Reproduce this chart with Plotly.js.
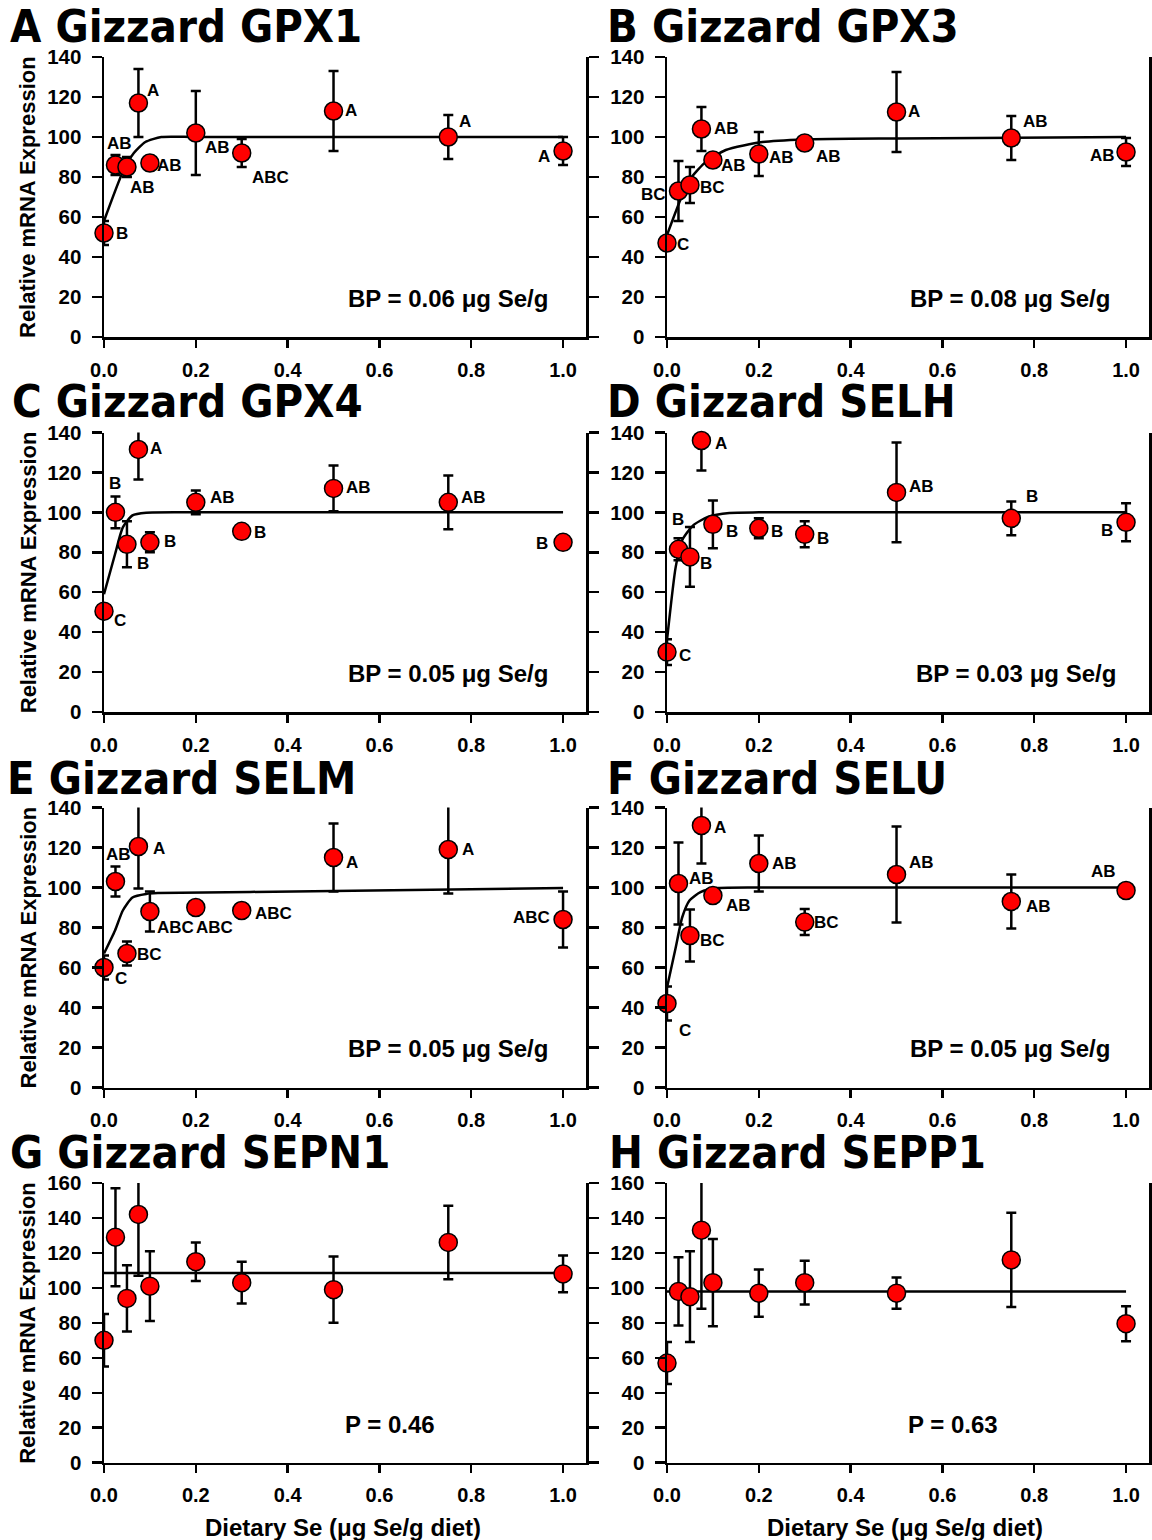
<!DOCTYPE html>
<html>
<head>
<meta charset="utf-8">
<script src="https://cdn.plot.ly/plotly-3.0.1.min.js"></script>
<style>html,body{margin:0;padding:0;background:#fff;}#chart{width:1152px;height:1540px;}</style>
</head>
<body>
<div id="chart"></div>
<script>
// ---------- DATA ----------
const doses = [0, 0.025, 0.05, 0.075, 0.1, 0.2, 0.3, 0.5, 0.75, 1.0];
const xTickVals = [0, 0.2, 0.4, 0.6, 0.8, 1.0];

const gpx1Mean = [52, 86, 85, 117, 87, 102, 92, 113, 100, 93];
const gpx1Se   = [6, 5, 5, 17, 3.5, 21, 7, 20, 11, 7];
const gpx1Labels = ['B','AB','AB','A','AB','AB','ABC','A','A','A'];
const gpx1CurveX = [0, 0.04, 0.065, 0.09, 0.125, 0.2, 1.0];
const gpx1CurveY = [58, 82, 92, 97.5, 100, 100, 100];

const gpx3Mean = [47, 73, 76, 104, 88.5, 91.5, 97, 112.5, 99.5, 92.5];
const gpx3Se   = [3, 15, 9, 11, 3, 11, 2, 20, 11, 7];
const gpx3Labels = ['C','BC','BC','AB','AB','AB','AB','A','AB','AB'];
const gpx3CurveX = [0, 0.029, 0.049, 0.081, 0.128, 0.208, 0.3, 0.5, 1.0];
const gpx3CurveY = [51, 68.5, 78.5, 86.8, 93.5, 97.5, 98.8, 99.3, 100];

const gpx4Mean = [50.5, 100, 84, 131.5, 85, 105, 90.5, 112, 105, 85];
const gpx4Se   = [2, 8, 11.5, 15, 5, 6, 1.5, 11.5, 13.5, 1];
const gpx4Labels = ['C','B','B','A','B','AB','B','AB','AB','B'];
const gpx4CurveX = [0, 0.024, 0.041, 0.062, 0.092, 0.2, 1.0];
const gpx4CurveY = [59, 79, 92.5, 98.5, 99.8, 100, 100];

const selhMean = [30, 81.5, 77.7, 136, 94, 92, 89, 110, 97, 95];
const selhSe   = [6.5, 5.5, 15, 15, 12, 5, 6.5, 25, 8.5, 9.5];
const selhLabels = ['C','B','B','A','B','B','B','AB','B','B'];
const selhCurveX = [0, 0.019, 0.033, 0.057, 0.089, 0.136, 0.2, 1.0];
const selhCurveY = [36, 72.7, 86, 93.5, 97.7, 99.7, 100, 100];

const selmMean = [60, 103, 67, 120.5, 88, 90, 88.5, 115, 119, 84];
const selmSe   = [6, 7.5, 6, 21, 10, 2, 3.5, 17, 22, 14];
const selmLabels = ['C','AB','BC','A','ABC','ABC','ABC','A','A','ABC'];
const selmCurveX = [0, 0.024, 0.041, 0.062, 0.092, 0.117, 0.5, 1.0];
const selmCurveY = [67, 78.5, 88.5, 95, 96.8, 97.2, 98.2, 99.8];

const seluMean = [42, 102, 76, 131, 96, 112, 82.7, 106.5, 93, 98.5];
const seluSe   = [8.5, 20.5, 13, 19, 2, 14, 6.5, 24, 13.5, 1];
const seluLabels = ['C','AB','BC','A','AB','AB','BC','AB','AB','AB'];
const seluCurveX = [0, 0.019, 0.033, 0.049, 0.073, 0.111, 0.2, 1.0];
const seluCurveY = [50, 70, 85, 93.5, 97.7, 99.7, 100, 100];

const sepn1Mean = [70, 129, 94, 142, 101, 115, 103, 99, 126, 108];
const sepn1Se   = [15, 28, 19, 35, 20, 11, 12, 19, 21, 10.5];
const sepn1Labels = ['','','','','','','','','',''];
const sepn1CurveX = [0, 1.0];
const sepn1CurveY = [108.5, 108.5];

const sepp1Mean = [57, 98, 95, 133, 103, 97, 103, 97, 116, 79.5];
const sepp1Se   = [12, 19.5, 26, 45, 25, 13.5, 12.5, 9, 27, 10];
const sepp1Labels = ['','','','','','','','','',''];
const sepp1CurveX = [0, 1.0];
const sepp1CurveY = [98, 98];

const panelTitles = ['A Gizzard GPX1','B Gizzard GPX3','C Gizzard GPX4','D Gizzard SELH',
                     'E Gizzard SELM','F Gizzard SELU','G Gizzard SEPN1','H Gizzard SEPP1'];
const panelNotes = ['BP = 0.06 μg Se/g','BP = 0.08 μg Se/g','BP = 0.05 μg Se/g','BP = 0.03 μg Se/g',
                    'BP = 0.05 μg Se/g','BP = 0.05 μg Se/g','P = 0.46','P = 0.63'];
const yAxisTitle = 'Relative mRNA Expression';
const xAxisTitle = 'Dietary Se (μg Se/g diet)';

// ---------- POSITIONS / STYLES ----------
const W = 1152, H = 1540;
const colPx = [[104, 586], [667, 1149]];
const rowPx = [[57, 337], [432.5, 712], [807.5, 1087.5], [1183, 1462.7]];
const rowYMax = [140, 140, 140, 160];

// label offsets in pixels [dx, dy(up)]
const gpx1Shift = [[18,0],[4,22],[16,-20],[15,13],[20,-2],[22,-14],[29,-24],[17,1],[17,16],[-19,-5]];
const gpx3Shift = [[16,-1],[-25,-3],[23,-2],[25,1],[21,-5],[23,-3],[24,-13],[17,1],[24,17],[-24,-3]];
const gpx4Shift = [[16,-9],[0,29],[16,-19],[18,1],[20,1],[27,5],[18,-1],[25,1],[25,5],[-21,-1]];
const selhShift = [[18,-3],[0,30],[16,-7],[20,-3],[19,-7],[18,-3],[18,-4],[25,6],[21,22],[-19,-8]];
const selmShift = [[17,-11],[3,27],[23,-1],[21,-2],[26,-16],[19,-20],[32,-3],[18,-5],[20,0],[-32,2]];
const seluShift = [[18,-27],[23,5],[23,-5],[19,-2],[26,-10],[26,0],[22,0],[25,12],[27,-5],[-23,19]];
const noShift = doses.map(() => [0,0]);

const notePos = [[0.749,19.5],[0.747,19.5],[0.749,19.5],[0.760,19.5],[0.749,19.5],[0.747,19.5],[0.623,21.6],[0.623,21.6]];
const titlePx = [[8,27],[605,27],[10,402],[605,402],[5,778],[605,778],[8,1152],[607,1152]];

const panels = [
  {mean:gpx1Mean, se:gpx1Se, labels:gpx1Labels, cx:gpx1CurveX, cy:gpx1CurveY, shift:gpx1Shift},
  {mean:gpx3Mean, se:gpx3Se, labels:gpx3Labels, cx:gpx3CurveX, cy:gpx3CurveY, shift:gpx3Shift},
  {mean:gpx4Mean, se:gpx4Se, labels:gpx4Labels, cx:gpx4CurveX, cy:gpx4CurveY, shift:gpx4Shift},
  {mean:selhMean, se:selhSe, labels:selhLabels, cx:selhCurveX, cy:selhCurveY, shift:selhShift},
  {mean:selmMean, se:selmSe, labels:selmLabels, cx:selmCurveX, cy:selmCurveY, shift:selmShift},
  {mean:seluMean, se:seluSe, labels:seluLabels, cx:seluCurveX, cy:seluCurveY, shift:seluShift},
  {mean:sepn1Mean, se:sepn1Se, labels:sepn1Labels, cx:sepn1CurveX, cy:sepn1CurveY, shift:noShift},
  {mean:sepp1Mean, se:sepp1Se, labels:sepp1Labels, cx:sepp1CurveX, cy:sepp1CurveY, shift:noShift}
];

const FONT = 'Liberation Sans, Arial, sans-serif';
const TITLEFONT = 'DejaVu Sans Condensed, DejaVu Sans, Verdana, sans-serif';

const traces = [];
const layout = {
  width: W, height: H,
  margin: {l:0, r:0, t:0, b:0},
  paper_bgcolor: '#ffffff', plot_bgcolor: '#ffffff',
  showlegend: false,
  annotations: []
};

panels.forEach((p, i) => {
  const n = i + 1;
  const col = i % 2, row = Math.floor(i / 2);
  const xa = n === 1 ? 'x' : 'x' + n;
  const ya = n === 1 ? 'y' : 'y' + n;
  const xKey = n === 1 ? 'xaxis' : 'xaxis' + n;
  const yKey = n === 1 ? 'yaxis' : 'yaxis' + n;
  layout[xKey] = {
    domain: [colPx[col][0] / W, colPx[col][1] / W],
    anchor: ya, range: [0, 1.05],
    tickvals: xTickVals, tickformat: '.1f',
    ticks: 'outside', ticklen: 8, tickwidth: 2.5, tickcolor: '#000',
    showline: true, linewidth: 2.5, linecolor: '#000',
    showgrid: false, zeroline: false, mirror: false,
    ticklabelstandoff: 5,
    tickfont: {family: FONT, size: 20, color: '#000', weight: 'bold'}
  };
  layout[yKey] = {
    domain: [1 - rowPx[row][1] / H, 1 - rowPx[row][0] / H],
    anchor: xa, range: [0, rowYMax[row]], dtick: 20, tick0: 0,
    ticks: 'outside', ticklen: 10, tickwidth: 2.5, tickcolor: '#000',
    showline: true, linewidth: 2.5, linecolor: '#000', mirror: 'ticks',
    showgrid: false, zeroline: false,
    ticklabelstandoff: 6,
    tickfont: {family: FONT, size: 20.5, color: '#000', weight: 'bold'}
  };
  // fitted curve
  traces.push({x: p.cx, y: p.cy, xaxis: xa, yaxis: ya, mode: 'lines',
    line: {color: '#000', width: 2.5, shape: 'spline', smoothing: 0.6},
    hoverinfo: 'skip', cliponaxis: true});
  // error bars (clipped at axis)
  traces.push({x: doses, y: p.mean, xaxis: xa, yaxis: ya, mode: 'markers',
    marker: {size: 1, color: 'rgba(0,0,0,0)'},
    error_y: {type: 'data', array: p.se, visible: true, color: '#000', thickness: 2.5, width: 5},
    hoverinfo: 'skip', cliponaxis: true});
  // markers
  traces.push({x: doses, y: p.mean, xaxis: xa, yaxis: ya, mode: 'markers',
    marker: {size: 18, color: '#ff0000', line: {color: '#000', width: 1.5}},
    cliponaxis: false});
  // significance letters
  p.labels.forEach((t, k) => {
    if (!t) return;
    layout.annotations.push({xref: xa, yref: ya, x: doses[k], y: p.mean[k], text: t,
      showarrow: false, xshift: p.shift[k][0], yshift: p.shift[k][1],
      font: {family: FONT, size: 17, color: '#000', weight: 'bold'}});
  });
  // BP / P note
  layout.annotations.push({xref: xa, yref: ya, x: notePos[i][0], y: notePos[i][1], text: panelNotes[i],
    showarrow: false, font: {family: FONT, size: 24, color: '#000', weight: 'bold'}});
  // panel title
  layout.annotations.push({xref: 'paper', yref: 'paper', x: titlePx[i][0] / W, y: 1 - titlePx[i][1] / H,
    xanchor: 'left', yanchor: 'middle', text: panelTitles[i], showarrow: false,
    font: {family: TITLEFONT, size: 45, color: '#000', weight: 'bold'}});
  // y axis title (left column)
  if (col === 0) {
    layout.annotations.push({xref: 'paper', yref: 'paper', x: 28 / W,
      y: 1 - (rowPx[row][0] + rowPx[row][1]) / 2 / H, text: yAxisTitle, textangle: -90,
      showarrow: false, xanchor: 'center', yanchor: 'middle',
      font: {family: FONT, size: 22, color: '#000', weight: 'bold'}});
  }
  // x axis title (bottom row)
  if (row === 3) {
    layout.annotations.push({xref: 'paper', yref: 'paper', x: (col === 0 ? 343 : 905) / W,
      y: 1 - 1527 / H, text: xAxisTitle, showarrow: false, xanchor: 'center', yanchor: 'middle',
      font: {family: FONT, size: 24, color: '#000', weight: 'bold'}});
  }
});

Plotly.newPlot('chart', traces, layout, {staticPlot: true, displayModeBar: false});
</script>
</body>
</html>
